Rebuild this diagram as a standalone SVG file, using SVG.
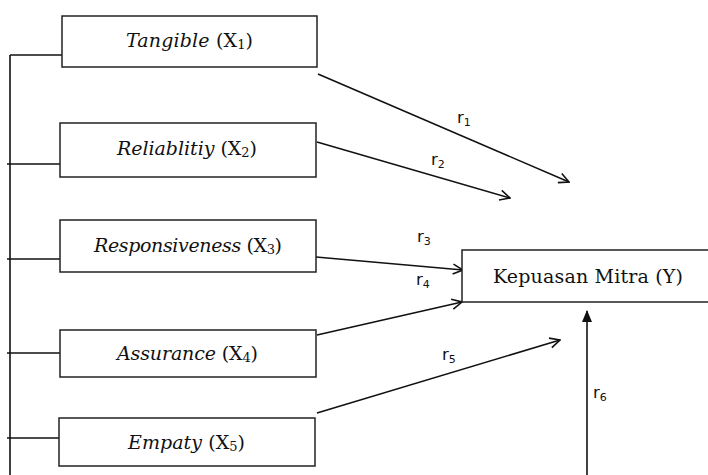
<svg xmlns="http://www.w3.org/2000/svg" width="708" height="475" viewBox="0 0 708 475">
<defs>
<style>
.box{fill:#fff;stroke:#222;stroke-width:1.5}
.lbl{font-family:"DejaVu Serif","Liberation Serif",serif;font-size:19px;fill:#111;text-anchor:middle}
.it{font-style:italic}
.sb{font-size:13px}
.ln{stroke:#111;stroke-width:1.6;fill:none}
.r{font-family:"DejaVu Sans","Verdana",sans-serif;font-size:16.5px;fill:#111}
.sub{font-size:11px}
</style>
<marker id="open" viewBox="0 0 12 12" refX="11" refY="6" markerWidth="12" markerHeight="12" markerUnits="userSpaceOnUse" orient="auto">
<path d="M1,1 L11,6 L1,11" fill="none" stroke="#111" stroke-width="1.6"/>
</marker>
<marker id="solid" viewBox="0 0 12 12" refX="11" refY="6" markerWidth="12" markerHeight="12" markerUnits="userSpaceOnUse" orient="auto">
<path d="M0,1 L12,6 L0,11 Z" fill="#111"/>
</marker>
</defs>
<g id="connectors">
<path class="ln" d="M10,55 V475"/>
<path class="ln" d="M10,55 H62"/>
<path class="ln" d="M7,164 H60"/>
<path class="ln" d="M7,259 H60"/>
<path class="ln" d="M7,353 H60"/>
<path class="ln" d="M7,438 H59"/>
<path class="ln" marker-end="url(#open)" d="M318,74 L569,182"/>
<path class="ln" marker-end="url(#open)" d="M317,142 L510,198"/>
<path class="ln" marker-end="url(#open)" d="M316,257 L463,270"/>
<path class="ln" marker-end="url(#open)" d="M317,335 L462,302"/>
<path class="ln" marker-end="url(#open)" d="M317,413 L560,340"/>
<path class="ln" marker-end="url(#solid)" d="M587,475 V311"/>
<text class="r" x="457" y="123">r<tspan class="sub" dy="3">1</tspan></text>
<text class="r" x="431" y="165">r<tspan class="sub" dy="3">2</tspan></text>
<text class="r" x="417" y="242">r<tspan class="sub" dy="3">3</tspan></text>
<text class="r" x="416" y="285">r<tspan class="sub" dy="3">4</tspan></text>
<text class="r" x="442" y="360">r<tspan class="sub" dy="3">5</tspan></text>
<text class="r" x="593" y="398">r<tspan class="sub" dy="3">6</tspan></text>
</g>
<g id="x1">
<rect class="box" x="62" y="16" width="255" height="51"/>
<text class="lbl" x="189.5" y="47" textLength="127"><tspan class="it">Tangible</tspan> (X<tspan class="sb" dy="2">1</tspan><tspan dy="-2">)</tspan></text>
</g>
<g id="x2">
<rect class="box" x="60" y="123" width="256" height="54"/>
<text class="lbl" x="187" y="155" textLength="140"><tspan class="it">Reliablitiy</tspan> (X<tspan class="sb" dy="2">2</tspan><tspan dy="-2">)</tspan></text>
</g>
<g id="x3">
<rect class="box" x="60" y="220" width="256" height="52"/>
<text class="lbl" x="188" y="252" textLength="188"><tspan class="it">Responsiveness</tspan> (X<tspan class="sb" dy="2">3</tspan><tspan dy="-2">)</tspan></text>
</g>
<g id="x4">
<rect class="box" x="60" y="330" width="256" height="47"/>
<text class="lbl" x="187.5" y="360" textLength="141"><tspan class="it">Assurance</tspan> (X<tspan class="sb" dy="2">4</tspan><tspan dy="-2">)</tspan></text>
</g>
<g id="x5">
<rect class="box" x="59" y="418" width="256" height="48"/>
<text class="lbl" x="186.5" y="449" textLength="117"><tspan class="it">Empaty</tspan> (X<tspan class="sb" dy="2">5</tspan><tspan dy="-2">)</tspan></text>
</g>
<g id="y">
<rect class="box" x="462" y="250" width="260" height="52"/>
<text class="lbl" x="588" y="283" textLength="190">Kepuasan Mitra (Y)</text>
</g>
</svg>
